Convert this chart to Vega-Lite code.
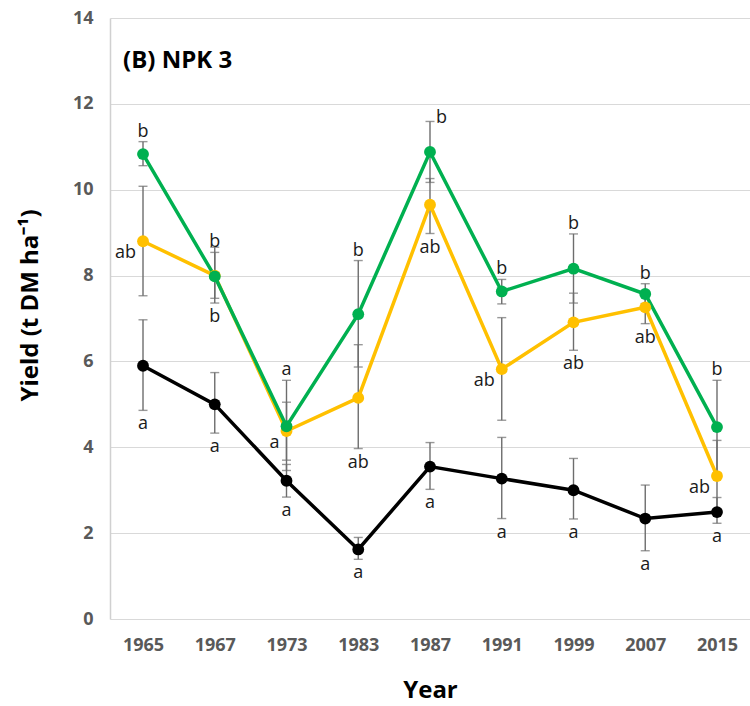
{
  "$schema": "https://vega.github.io/schema/vega-lite/v6.json",
  "width": 640,
  "height": 601,
  "autosize": {"type": "none"},
  "padding": {"left": 110, "top": 18, "right": 0, "bottom": 87},
  "background": "white",
  "config": {"view": {"stroke": null}, "font": "Open Sans"},
  "data": {"values": [
    {"year": "1965", "series": "Black", "yield": 5.9, "lo": 4.86, "hi": 6.97, "letter": "a", "pos": "below"},
    {"year": "1967", "series": "Black", "yield": 5.0, "lo": 4.33, "hi": 5.74, "letter": "a", "pos": "below"},
    {"year": "1973", "series": "Black", "yield": 3.22, "lo": 2.84, "hi": 3.6, "letter": "a", "pos": "below"},
    {"year": "1983", "series": "Black", "yield": 1.62, "lo": 1.39, "hi": 1.9, "letter": "a", "pos": "below"},
    {"year": "1987", "series": "Black", "yield": 3.55, "lo": 3.02, "hi": 4.11, "letter": "a", "pos": "below"},
    {"year": "1991", "series": "Black", "yield": 3.27, "lo": 2.34, "hi": 4.23, "letter": "a", "pos": "below"},
    {"year": "1999", "series": "Black", "yield": 3.0, "lo": 2.33, "hi": 3.74, "letter": "a", "pos": "below"},
    {"year": "2007", "series": "Black", "yield": 2.34, "lo": 1.59, "hi": 3.12, "letter": "a", "pos": "below"},
    {"year": "2015", "series": "Black", "yield": 2.49, "lo": 2.23, "hi": 2.83, "letter": "a", "pos": "below"},
    {"year": "1965", "series": "Yellow", "yield": 8.8, "lo": 7.53, "hi": 10.08, "letter": "ab", "pos": "left"},
    {"year": "1967", "series": "Yellow", "yield": 8.0, "lo": 7.36, "hi": 8.66, "letter": "b", "pos": "below"},
    {"year": "1973", "series": "Yellow", "yield": 4.38, "lo": 3.7, "hi": 5.05, "letter": "a", "pos": "left"},
    {"year": "1983", "series": "Yellow", "yield": 5.15, "lo": 3.97, "hi": 6.39, "letter": "ab", "pos": "below"},
    {"year": "1987", "series": "Yellow", "yield": 9.65, "lo": 8.98, "hi": 10.26, "letter": "ab", "pos": "below"},
    {"year": "1991", "series": "Yellow", "yield": 5.82, "lo": 4.63, "hi": 7.02, "letter": "ab", "pos": "left"},
    {"year": "1999", "series": "Yellow", "yield": 6.91, "lo": 6.26, "hi": 7.59, "letter": "ab", "pos": "below"},
    {"year": "2007", "series": "Yellow", "yield": 7.26, "lo": 6.88, "hi": 7.64, "letter": "ab", "pos": "below"},
    {"year": "2015", "series": "Yellow", "yield": 3.33, "lo": 2.5, "hi": 4.16, "letter": "ab", "pos": "left"},
    {"year": "1965", "series": "Green", "yield": 10.83, "lo": 10.56, "hi": 11.12, "letter": "b", "pos": "above"},
    {"year": "1967", "series": "Green", "yield": 7.98, "lo": 7.47, "hi": 8.54, "letter": "b", "pos": "above"},
    {"year": "1973", "series": "Green", "yield": 4.49, "lo": 3.46, "hi": 5.56, "letter": "a", "pos": "above"},
    {"year": "1983", "series": "Green", "yield": 7.1, "lo": 5.87, "hi": 8.35, "letter": "b", "pos": "above"},
    {"year": "1987", "series": "Green", "yield": 10.88, "lo": 10.17, "hi": 11.59, "letter": "b", "pos": "right"},
    {"year": "1991", "series": "Green", "yield": 7.63, "lo": 7.34, "hi": 7.91, "letter": "b", "pos": "above"},
    {"year": "1999", "series": "Green", "yield": 8.16, "lo": 7.36, "hi": 8.97, "letter": "b", "pos": "above"},
    {"year": "2007", "series": "Green", "yield": 7.57, "lo": 7.35, "hi": 7.81, "letter": "b", "pos": "above"},
    {"year": "2015", "series": "Green", "yield": 4.47, "lo": 3.4, "hi": 5.56, "letter": "b", "pos": "above"}
  ]},
  "encoding": {
    "x": {
      "field": "year", "type": "ordinal",
      "scale": {"type": "point", "domain": ["1965", "1967", "1973", "1983", "1987", "1991", "1999", "2007", "2015"], "padding": 0.46},
      "axis": {
        "domain": false, "ticks": false, "grid": false, "labelAngle": 0,
        "labelFont": "Open Sans", "labelFontWeight": "bold", "labelFontSize": 18, "labelColor": "#595959", "labelPadding": 17,
        "title": "Year", "titleFont": "Open Sans", "titleFontSize": 24, "titleFontWeight": "bold", "titleColor": "#000000", "titlePadding": 24
      }
    }
  },
  "layer": [
    {
      "mark": {"type": "rule", "color": "#6d6d6d", "strokeWidth": 1.4},
      "encoding": {
        "y": {"field": "lo", "type": "quantitative", "scale": {"domain": [0, 14], "nice": false},
          "axis": {
            "values": [0, 2, 4, 6, 8, 10, 12, 14], "grid": true, "gridColor": "#d9d9d9", "gridWidth": 1.2,
            "domain": true, "domainColor": "#d0d0d0", "domainWidth": 1.5, "ticks": false,
            "labelFont": "Open Sans", "labelFontWeight": "bold", "labelFontSize": 18, "labelColor": "#595959", "labelPadding": 17,
            "title": "Yield (t DM ha⁻¹)", "titleFont": "Open Sans", "titleFontSize": 24, "titleFontWeight": "bold", "titleColor": "#000000",
            "titleX": -80, "titleY": 287, "titleBaseline": "middle", "titleAngle": 270
          }},
        "y2": {"field": "hi"}
      }
    },
    {
      "mark": {"type": "tick", "color": "#6d6d6d", "thickness": 1.4, "size": 9},
      "encoding": {"y": {"field": "lo", "type": "quantitative"}}
    },
    {
      "mark": {"type": "tick", "color": "#6d6d6d", "thickness": 1.4, "size": 9},
      "encoding": {"y": {"field": "hi", "type": "quantitative"}}
    },
    {
      "mark": {"type": "line", "strokeWidth": 3.5},
      "encoding": {
        "y": {"field": "yield", "type": "quantitative"},
        "color": {"field": "series", "type": "nominal", "scale": {"domain": ["Black", "Yellow", "Green"], "range": ["#000000", "#FFC000", "#00B050"]}, "legend": null}
      }
    },
    {
      "mark": {"type": "point", "shape": "circle", "filled": true, "opacity": 1, "size": 140},
      "encoding": {
        "y": {"field": "yield", "type": "quantitative"},
        "color": {"field": "series", "type": "nominal", "legend": null}
      }
    },
    {
      "transform": [{"filter": "datum.pos === 'above'"}],
      "mark": {"type": "text", "fontSize": 18, "color": "#1a1a1a", "baseline": "alphabetic", "dy": -5, "font": "Open Sans"},
      "encoding": {"y": {"field": "hi", "type": "quantitative"}, "text": {"field": "letter"}}
    },
    {
      "transform": [{"filter": "datum.pos === 'below'"}],
      "mark": {"type": "text", "fontSize": 18, "color": "#1a1a1a", "baseline": "alphabetic", "dy": 19, "font": "Open Sans"},
      "encoding": {"y": {"field": "lo", "type": "quantitative"}, "text": {"field": "letter"}}
    },
    {
      "transform": [{"filter": "datum.pos === 'left'"}],
      "mark": {"type": "text", "fontSize": 18, "color": "#1a1a1a", "baseline": "alphabetic", "align": "right", "dx": -7, "dy": 17, "font": "Open Sans"},
      "encoding": {"y": {"field": "yield", "type": "quantitative"}, "text": {"field": "letter"}}
    },
    {
      "transform": [{"filter": "datum.pos === 'right'"}],
      "mark": {"type": "text", "fontSize": 18, "color": "#1a1a1a", "baseline": "alphabetic", "align": "left", "dx": 6, "dy": 2, "font": "Open Sans"},
      "encoding": {"y": {"field": "hi", "type": "quantitative"}, "text": {"field": "letter"}}
    },
    {
      "data": {"values": [{"label": "(B) NPK 3"}]},
      "mark": {"type": "text", "fontSize": 24, "fontWeight": "bold", "color": "#000000", "align": "left", "baseline": "middle", "dx": -20, "font": "Open Sans"},
      "encoding": {
        "x": {"datum": "1965"},
        "y": {"datum": 13.0},
        "text": {"field": "label"}
      }
    }
  ]
}
